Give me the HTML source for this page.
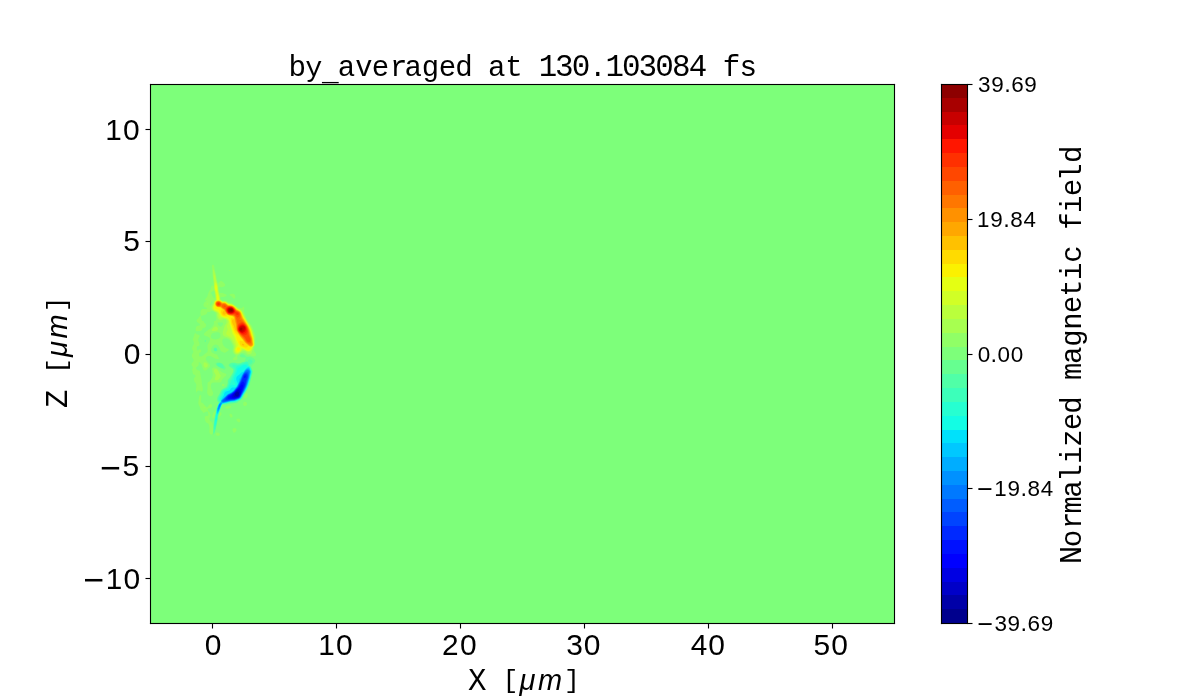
<!DOCTYPE html>
  <html><head><meta charset="utf-8"><title>by_averaged at 130.103084 fs</title>
  <style>
  html,body{margin:0;padding:0;background:#fff;width:1200px;height:700px;overflow:hidden}
  svg{display:block;will-change:transform}
  text{fill:#000}
  .s{font-family:"Liberation Sans",sans-serif}
  .m{font-family:"Liberation Mono",monospace}
  .i{font-family:"Liberation Sans",sans-serif;font-style:italic}
  </style></head>
  <body>
  <svg width="1200" height="700" viewBox="0 0 1200 700">
  <g shape-rendering="crispEdges">
  <rect x="0" y="0" width="1200" height="700" fill="#fff"/>
<rect x="150" y="84" width="745" height="540" fill="#7dff7a"/>
<rect x="942" y="85" width="25" height="13" fill="#8d0000"/>
<rect x="942" y="98" width="25" height="14" fill="#a80000"/>
<rect x="942" y="112" width="25" height="13" fill="#c80000"/>
<rect x="942" y="125" width="25" height="14" fill="#e40000"/>
<rect x="942" y="139" width="25" height="14" fill="#ff1600"/>
<rect x="942" y="153" width="25" height="14" fill="#ff3000"/>
<rect x="942" y="167" width="25" height="14" fill="#ff4700"/>
<rect x="942" y="181" width="25" height="14" fill="#ff6000"/>
<rect x="942" y="195" width="25" height="13" fill="#ff7700"/>
<rect x="942" y="208" width="25" height="14" fill="#ff9100"/>
<rect x="942" y="222" width="25" height="14" fill="#ffa700"/>
<rect x="942" y="236" width="25" height="14" fill="#ffc100"/>
<rect x="942" y="250" width="25" height="14" fill="#ffdb00"/>
<rect x="942" y="264" width="25" height="13" fill="#fbf100"/>
<rect x="942" y="277" width="25" height="14" fill="#e4ff13"/>
<rect x="942" y="291" width="25" height="14" fill="#d1ff26"/>
<rect x="942" y="305" width="25" height="14" fill="#baff3c"/>
<rect x="942" y="319" width="25" height="14" fill="#a7ff50"/>
<rect x="942" y="333" width="25" height="14" fill="#90ff66"/>
<rect x="942" y="347" width="25" height="13" fill="#7dff7a"/>
<rect x="942" y="360" width="25" height="14" fill="#66ff90"/>
<rect x="942" y="374" width="25" height="14" fill="#50ffa7"/>
<rect x="942" y="388" width="25" height="14" fill="#3cffba"/>
<rect x="942" y="402" width="25" height="14" fill="#26ffd1"/>
<rect x="942" y="416" width="25" height="14" fill="#13fde4"/>
<rect x="942" y="430" width="25" height="13" fill="#00e1fb"/>
<rect x="942" y="443" width="25" height="14" fill="#00c8ff"/>
<rect x="942" y="457" width="25" height="14" fill="#00adff"/>
<rect x="942" y="471" width="25" height="14" fill="#0091ff"/>
<rect x="942" y="485" width="25" height="14" fill="#0079ff"/>
<rect x="942" y="499" width="25" height="13" fill="#005dff"/>
<rect x="942" y="512" width="25" height="14" fill="#0044ff"/>
<rect x="942" y="526" width="25" height="14" fill="#0029ff"/>
<rect x="942" y="540" width="25" height="14" fill="#0011ff"/>
<rect x="942" y="554" width="25" height="14" fill="#0000ff"/>
<rect x="942" y="568" width="25" height="14" fill="#0000e3"/>
<rect x="942" y="582" width="25" height="13" fill="#0000c8"/>
<rect x="942" y="595" width="25" height="14" fill="#0000a8"/>
<rect x="942" y="609" width="25" height="14" fill="#00008d"/>
  </g>
  <defs><clipPath id="axclip"><rect x="151" y="85" width="743" height="538"/></clipPath></defs>
<g fill-rule="evenodd" clip-path="url(#axclip)"><path fill="#90ff66" d="M212.5 264.9L213.0 264.8 213.5 264.9 213.9 265.2 214.1 265.8 214.9 270.0 216.1 275.0 216.9 280.0 217.4 282.0 218.0 283.2 218.2 283.3 218.5 283.2 219.5 281.9 220.2 281.3 220.8 281.1 221.5 281.1 222.2 281.4 223.3 282.2 224.7 283.8 225.3 284.8 225.3 285.2 225.0 285.8 224.5 286.2 223.5 286.8 222.5 287.1 221.2 287.2 220.2 287.1 219.2 286.9 219.0 286.9 218.8 287.2 218.7 288.5 218.8 290.2 219.2 292.0 219.8 292.9 220.2 293.1 221.8 292.9 223.3 293.2 226.0 294.5 226.8 295.0 226.8 295.2 226.4 295.8 225.4 296.5 224.8 296.8 223.5 297.0 221.2 296.9 220.9 297.0 220.8 297.1 220.5 297.8 220.5 299.3 222.8 300.7 224.2 300.5 225.2 300.6 226.2 300.9 228.0 301.8 229.0 302.2 230.8 302.4 231.8 302.7 233.0 303.5 236.5 306.3 238.5 307.5 240.2 307.9 241.5 308.0 242.1 307.8 243.5 306.5 243.8 306.5 244.0 306.7 244.2 307.5 244.3 308.2 244.1 310.5 244.2 311.8 246.8 318.8 247.2 319.8 248.2 321.6 249.2 322.8 251.2 324.8 251.9 325.8 252.6 327.2 255.4 334.8 255.6 336.0 255.6 337.5 255.3 341.0 255.4 344.8 255.2 345.8 254.5 347.0 253.9 349.8 254.0 350.5 254.3 351.2 255.8 353.3 256.0 354.0 256.0 354.8 255.8 355.6 255.2 356.2 254.7 356.5 253.8 356.5 250.8 355.6 248.2 355.4 247.5 355.2 246.8 354.9 245.2 353.6 244.5 353.2 243.2 352.9 242.0 352.9 241.2 353.1 240.5 353.5 237.3 356.2 237.1 356.8 237.5 358.0 237.6 358.8 237.4 359.2 237.0 359.8 236.2 360.1 235.2 360.2 234.0 360.1 233.0 359.8 232.7 359.5 232.6 359.2 232.9 358.5 233.9 357.5 235.3 356.5 235.6 356.2 235.6 356.0 235.1 355.0 234.0 354.2 233.4 353.5 232.9 352.8 232.7 352.0 232.5 351.0 232.6 349.5 232.9 347.8 232.9 347.0 232.8 346.0 232.2 344.5 230.5 341.2 229.8 340.3 229.0 339.7 227.8 339.0 226.5 338.6 225.2 338.6 224.0 338.8 223.2 339.1 222.8 339.5 222.5 340.0 222.4 340.5 222.3 342.2 222.5 343.2 222.8 344.2 223.7 345.8 225.0 347.2 226.0 347.9 228.7 349.2 228.9 349.8 228.7 350.2 227.8 351.0 225.5 352.4 224.8 352.7 223.8 352.6 222.0 351.8 221.2 351.3 220.8 350.7 220.2 349.8 219.0 346.8 218.5 346.0 217.8 345.3 216.8 344.8 215.5 344.6 214.5 344.8 213.2 345.6 212.1 347.0 211.4 348.5 211.1 350.0 211.3 351.2 211.9 352.2 212.8 352.9 213.8 353.4 216.0 354.2 216.6 354.5 217.2 355.0 217.8 356.0 218.7 357.8 218.9 358.2 218.9 358.8 218.4 359.0 217.8 359.1 216.8 359.0 215.5 358.7 214.0 358.1 211.0 356.3 209.8 355.9 209.0 355.9 208.2 356.0 207.5 356.3 206.9 356.8 206.2 357.5 205.9 358.2 205.9 359.0 206.0 359.8 206.6 360.8 208.7 363.0 209.5 364.0 210.0 365.0 210.1 366.0 209.9 366.8 209.1 367.8 206.5 369.9 205.8 370.4 205.2 370.6 204.8 370.6 204.2 370.5 203.8 370.1 203.2 369.6 202.6 368.2 201.8 365.2 201.3 364.1 200.2 362.9 199.0 361.9 198.8 361.9 198.8 363.3 198.7 364.0 198.7 364.8 198.5 365.2 198.0 366.0 196.1 367.5 195.9 368.2 196.5 369.3 197.4 370.0 198.0 370.3 199.2 370.5 199.8 370.8 200.0 371.5 200.0 372.2 200.4 373.2 200.4 374.2 200.8 375.8 200.8 376.8 201.2 377.8 201.2 379.0 201.6 380.2 201.6 381.2 201.8 381.8 201.9 382.5 201.7 383.5 202.1 384.8 202.2 385.8 202.6 387.0 202.8 389.2 202.5 391.0 202.2 391.4 201.8 391.7 201.2 391.5 200.0 390.8 199.2 390.5 198.5 390.4 198.0 390.5 197.5 390.9 197.2 391.2 196.8 392.4 196.5 392.6 196.3 392.2 196.3 391.5 195.9 390.5 195.9 389.8 196.0 389.2 196.0 388.5 196.3 386.8 196.3 384.5 195.6 383.0 194.3 381.5 194.2 381.0 194.2 380.2 193.9 379.5 193.8 379.0 194.0 378.2 195.3 376.8 195.4 376.2 195.4 375.8 195.2 375.3 195.0 375.0 194.5 374.7 193.2 374.3 193.0 374.0 192.9 373.5 192.6 372.5 192.5 371.2 192.1 370.0 192.2 369.5 192.8 368.0 192.8 367.2 192.5 366.5 191.7 365.5 191.5 364.8 191.5 364.2 191.8 363.2 193.2 361.8 193.5 360.9 193.6 360.2 193.5 359.5 192.0 357.0 191.8 356.2 192.0 354.5 192.8 353.2 193.3 352.0 193.2 351.2 192.4 349.8 192.1 348.5 192.1 348.0 192.5 346.5 193.4 345.0 193.8 344.2 194.0 343.0 193.5 341.0 192.9 340.0 192.8 339.2 193.0 338.6 193.4 338.0 193.6 336.8 194.2 335.8 194.2 334.8 194.4 334.2 194.7 333.8 195.2 333.2 195.2 332.7 195.5 332.7 196.1 333.8 196.8 334.2 197.5 334.6 199.0 335.1 199.5 335.4 199.7 335.8 199.7 336.2 199.1 337.2 198.2 339.5 198.4 341.0 199.1 342.2 199.3 342.8 199.2 343.2 199.5 344.0 199.4 344.8 199.0 345.9 198.0 346.0 197.5 346.2 197.2 346.6 196.9 347.2 196.8 348.2 196.8 349.2 197.0 349.8 197.4 350.2 198.0 350.7 198.2 350.6 198.5 350.0 198.8 349.6 199.5 349.2 200.0 349.2 200.6 349.5 201.1 350.0 201.3 350.5 201.4 351.2 201.0 352.0 200.4 352.5 199.2 353.0 199.0 353.7 199.1 354.8 199.0 355.8 199.5 356.2 200.2 356.4 201.0 356.4 201.8 356.2 202.8 355.7 204.4 354.2 206.2 353.1 207.1 352.2 207.7 351.0 207.8 349.8 207.4 346.8 207.4 345.5 207.8 344.5 209.1 342.2 209.6 341.0 210.0 339.8 210.0 338.8 209.7 338.0 209.1 337.5 207.8 336.8 205.2 335.8 204.3 335.2 204.0 334.8 204.0 334.0 204.3 333.2 205.0 332.5 208.5 329.8 210.8 328.2 212.4 326.5 213.3 325.2 213.8 324.2 213.9 323.2 213.8 321.5 214.0 321.2 215.5 320.8 215.8 320.5 216.1 320.0 216.2 318.8 216.2 317.2 215.7 313.8 215.5 312.8 215.4 312.5 212.8 311.3 211.8 311.0 211.2 311.1 209.5 311.9 208.8 312.0 207.8 311.8 207.5 311.9 207.0 313.3 205.8 314.5 204.2 315.1 201.2 315.9 201.0 316.0 200.9 316.2 201.1 317.5 201.7 320.0 201.9 320.5 202.5 320.9 203.8 321.3 204.1 321.8 204.0 322.5 205.4 323.5 205.9 324.2 206.0 324.8 206.1 325.5 205.9 326.2 205.6 326.8 205.2 327.2 204.5 327.7 203.5 327.9 202.8 327.8 202.3 329.2 202.0 329.8 201.2 330.7 200.8 331.0 200.0 331.1 196.5 331.2 196.0 331.0 195.8 330.8 195.6 330.0 195.9 327.5 196.3 326.8 197.2 326.1 199.1 325.5 199.9 325.0 200.2 324.5 199.8 323.9 197.8 322.6 197.1 322.0 196.6 321.0 196.6 320.5 196.7 320.0 197.2 319.2 198.2 318.6 198.7 317.5 199.4 316.5 200.4 316.0 200.7 315.8 200.7 315.0 200.4 313.5 200.6 311.5 200.9 310.5 201.8 309.5 202.2 309.1 203.0 308.9 205.8 309.1 206.5 309.0 206.9 308.8 206.9 308.2 206.5 307.8 204.5 306.9 204.0 306.5 203.5 305.5 203.4 305.0 203.4 304.5 204.3 302.5 204.8 302.1 206.8 300.8 206.8 300.5 205.8 300.5 205.2 300.3 205.0 300.0 205.0 299.5 205.5 298.8 206.8 297.3 207.4 296.2 207.6 295.8 207.7 294.8 208.3 293.8 208.4 292.8 209.1 291.8 209.4 290.8 210.2 289.8 211.0 288.0 211.1 287.0 211.3 286.5 211.8 285.9 212.2 285.6 212.8 285.5 213.5 285.7 213.5 285.5 213.6 284.5 213.4 282.5 212.6 276.2 211.8 266.0 212.0 265.3ZM213.4 291.0L212.4 291.5 210.6 293.0 211.2 293.5 211.8 294.2 212.8 296.8 213.5 297.7 214.2 298.3 214.5 298.3 214.8 298.1 214.9 297.0 215.0 295.5 214.2 291.1 214.0 290.8ZM211.7 300.8L211.6 301.2 211.1 302.0 210.1 304.0 210.1 305.5 210.3 305.7 210.7 305.2 211.8 303.6 212.4 302.0 212.4 301.5 212.3 301.0 212.0 300.6ZM218.2 322.5L217.8 322.8 217.6 323.0 217.7 323.8 218.3 325.0 219.2 326.0 220.0 326.6 220.5 326.7 221.2 326.5 222.0 325.9 222.6 325.0 223.0 324.0 223.0 323.2 222.8 322.8 222.0 322.5 221.0 322.4 219.2 322.4ZM216.0 332.2L213.8 332.7 212.9 333.0 212.2 333.5 211.7 334.0 211.3 334.8 210.9 336.5 210.9 337.5 211.2 338.0 211.5 338.2 213.2 339.0 214.2 339.3 215.2 339.4 217.2 339.1 219.0 338.4 219.6 338.0 220.0 337.5 220.3 337.0 220.4 336.2 220.4 335.2 220.3 334.2 220.0 333.5 219.5 332.9 219.0 332.5 218.2 332.3ZM229.8 270.0L230.2 270.2 230.3 270.8 230.2 271.0 229.8 271.1 229.5 271.0 229.2 270.5 229.3 270.2 229.5 270.0ZM231.8 293.7L233.0 293.7 233.9 294.0 234.8 294.7 235.1 295.5 235.3 296.2 235.3 297.0 235.2 297.6 235.0 298.2 234.8 298.5 234.2 298.7 233.7 298.6 233.3 298.2 231.5 296.5 229.3 295.0 229.3 294.8 230.0 294.2ZM200.0 338.4L200.2 338.3 200.5 338.4 200.7 338.8 200.6 339.5 200.2 339.8 200.0 339.8 199.7 339.5 199.8 338.8ZM213.3 367.5L214.0 367.3 215.0 367.4 216.0 367.7 217.0 368.2 218.9 369.5 221.8 372.1 223.0 372.8 225.8 373.8 226.3 374.2 226.5 374.8 226.3 375.2 225.8 376.0 223.5 378.0 222.8 378.8 222.1 379.8 221.3 381.8 220.8 382.3 219.5 382.5 215.3 382.5 213.5 382.6 212.5 382.8 211.7 383.2 211.3 383.8 211.1 384.2 210.9 386.0 211.0 387.8 211.7 389.5 212.7 391.5 213.1 392.8 213.1 394.0 212.8 394.8 212.6 395.2 212.1 395.8 211.5 396.1 211.0 396.3 210.2 396.3 209.8 396.2 209.0 395.8 207.9 394.8 207.3 393.5 207.1 392.2 207.5 388.2 207.5 383.8 207.7 382.8 208.0 382.3 209.8 381.2 210.2 380.7 211.8 377.9 212.5 376.2 212.8 375.2 212.8 374.5 212.2 371.0 212.1 369.2 212.2 368.5 212.5 368.0ZM222.5 383.9L223.0 383.8 223.8 383.9 224.2 384.2 224.5 384.5 224.6 385.2 224.4 385.5 223.8 385.9 223.0 386.1 222.5 386.1 222.2 386.0 222.0 385.8 221.9 385.2 222.0 384.8 222.2 384.2ZM246.8 393.2L247.2 393.2 247.5 393.4 247.6 393.8 247.7 394.8 247.5 396.0 247.1 397.0 246.5 397.7 245.8 398.3 245.0 398.6 244.5 398.6 244.2 398.4 244.1 398.0 244.1 397.2 244.4 396.2 244.8 395.3 245.2 394.5 246.0 393.7ZM199.8 395.2L200.2 395.0 200.8 395.2 201.0 395.5 201.2 396.1 201.3 397.5 201.1 401.5 201.2 402.2 203.0 403.3 205.2 405.8 206.8 407.3 207.0 407.4 207.5 407.0 209.0 405.0 209.5 404.5 210.0 404.2 210.8 404.1 211.2 404.2 211.8 404.7 212.0 405.1 212.1 405.8 212.1 406.2 211.8 407.0 211.5 407.4 210.5 408.0 207.8 408.7 207.7 409.8 208.7 411.2 208.7 411.8 209.5 412.1 209.8 412.5 210.0 413.0 210.0 413.8 210.5 414.8 210.6 415.2 210.5 415.8 210.2 416.2 209.7 416.2 209.8 416.4 210.2 416.4 210.4 416.5 210.5 416.8 210.0 417.1 209.6 417.8 209.5 418.5 209.6 419.8 210.2 420.9 211.3 421.4 212.0 422.5 213.2 426.2 213.3 427.0 213.5 427.2 213.3 427.5 213.3 430.5 213.0 430.8 213.0 431.2 213.3 431.5 213.0 431.8 213.0 432.0 213.0 432.2 213.3 432.5 213.0 432.8 213.0 433.0 212.6 433.8 212.0 434.4 211.5 434.5 210.8 434.4 210.2 434.0 209.8 433.5 209.5 432.8 209.3 431.5 209.5 429.5 209.5 428.0 209.3 426.8 208.8 424.7 208.5 424.1 207.8 423.2 206.3 422.5 205.8 421.9 205.2 420.5 204.8 419.2 204.8 417.2 205.0 416.4 205.3 416.2 205.8 415.9 207.5 415.9 207.9 415.8 208.1 415.5 208.5 414.2 208.2 413.8 208.0 413.0 208.0 412.5 208.3 412.0 207.2 411.6 206.5 411.5 205.9 411.8 204.0 412.7 203.5 412.8 203.0 412.6 202.7 412.2 202.4 411.5 202.0 410.8 201.2 410.5 200.8 410.0 199.9 407.2 198.7 404.8 198.3 403.2 198.7 400.0 198.5 399.2 198.8 398.8 199.2 396.2 199.5 395.5ZM244.5 401.7L245.2 401.8 246.0 402.1 246.7 402.8 247.0 403.5 247.1 404.2 246.8 405.0 246.4 405.5 245.7 405.8 245.0 406.0 244.2 405.9 243.7 405.5 243.2 404.8 243.1 403.8 243.4 402.8 243.8 402.1ZM229.0 405.7L230.2 405.7 230.9 406.0 231.3 406.5 231.1 407.0 230.5 407.7 229.5 408.3 228.5 408.6 227.2 408.8 226.2 408.6 225.5 408.4 225.0 408.0 224.9 407.5 225.1 407.2 225.9 406.8 227.9 406.0ZM214.8 411.2L215.0 411.1 215.2 411.2 215.3 412.0 215.0 414.0 214.5 416.1 214.2 416.8 213.8 417.6 212.8 417.9 212.5 417.9 212.3 417.8 212.2 417.2 212.7 414.5 213.2 413.2 213.7 412.2 214.2 411.6ZM220.2 412.1L220.5 412.1 220.8 412.2 221.2 412.8 221.5 413.5 221.5 414.2 221.3 415.0 220.9 415.5 220.4 416.0 219.8 416.4 219.0 416.6 218.8 416.3 218.8 415.8 219.3 413.8 219.8 412.7ZM230.2 413.7L230.8 413.7 231.5 414.1 232.0 414.6 232.3 415.2 232.5 416.0 232.5 416.9 232.2 417.3 231.8 417.6 231.0 417.5 230.5 417.2 230.0 416.6 229.7 416.0 229.5 415.3 229.5 414.5 229.8 414.0ZM237.5 418.7L238.5 418.6 239.2 418.8 239.8 419.0 240.2 419.5 240.4 420.2 240.2 421.2 239.9 422.0 239.2 422.4 238.8 422.3 238.0 421.9 237.0 421.0 236.5 420.2 236.4 419.8 236.5 419.2 236.8 419.0ZM233.8 428.2L234.8 428.1 235.5 428.3 236.2 428.8 236.5 429.2 236.5 430.0 236.3 430.8 235.9 431.5 235.2 432.3 234.5 432.7 233.8 432.6 233.2 432.2 232.8 431.3 232.5 430.2 232.6 429.2 233.0 428.6ZM216.8 432.5L217.5 432.5 218.5 432.8 219.2 433.2 219.7 433.8 219.9 434.5 219.8 435.0 219.2 435.5 218.8 435.7 218.0 435.8 217.2 435.8 216.5 435.6 216.0 435.2 215.8 434.8 215.8 433.8 216.2 432.8Z"/>
<path fill="#a7ff50" d="M213.2 269.6L213.8 269.6 214.1 270.2 215.0 273.0 215.5 275.0 216.4 280.0 217.8 285.5 218.3 290.2 218.7 292.0 219.8 295.8 220.1 299.2 220.2 299.7 222.5 301.1 224.5 301.1 225.5 301.3 226.2 301.6 229.0 303.2 230.8 303.4 232.2 303.9 234.2 305.2 237.8 308.1 240.2 309.2 241.5 310.1 242.4 311.2 247.3 321.0 250.9 326.2 252.8 330.8 254.0 335.0 254.5 337.8 254.6 341.0 254.8 344.5 254.7 345.2 254.4 346.0 253.6 347.0 253.5 348.0 253.1 349.0 252.2 350.8 251.7 352.8 251.2 353.4 250.5 353.9 249.2 354.1 248.2 354.0 247.2 353.5 245.8 351.8 245.1 351.2 244.4 351.0 243.5 351.0 242.2 351.5 238.8 354.0 237.5 354.5 236.8 354.6 236.0 354.3 235.0 353.7 234.3 353.0 233.8 352.0 233.6 351.0 233.6 349.5 234.2 347.0 234.2 346.0 233.5 344.4 231.5 340.5 230.5 339.2 229.0 338.1 227.8 337.5 224.8 336.4 224.0 336.0 223.2 335.2 222.8 334.2 222.7 333.0 222.8 331.8 224.2 327.0 224.8 325.5 226.5 323.0 226.4 320.2 225.5 319.6 224.2 319.2 221.8 320.1 220.8 320.3 219.8 320.2 218.8 319.6 218.2 319.1 217.9 318.5 217.3 317.0 217.0 315.2 216.9 313.0 216.2 312.4 214.1 311.2 213.0 310.5 212.0 309.5 211.7 308.8 211.6 308.0 211.6 307.2 211.9 306.2 212.4 305.0 213.6 303.0 213.9 301.8 214.3 301.0 215.0 300.2 215.8 299.8 215.8 299.5 215.4 294.5 214.1 288.2 213.8 281.8 213.2 276.8 213.0 274.0 213.0 270.5ZM207.0 303.5L207.5 303.5 207.7 303.8 207.8 304.1 207.5 304.5 207.0 304.5 206.7 304.2 206.7 303.8ZM215.2 326.4L216.0 326.5 217.0 327.1 217.8 328.2 218.1 329.2 217.8 330.0 217.2 330.4 216.2 330.8 214.8 331.1 213.5 331.1 212.5 331.0 211.9 330.8 211.8 330.2 212.2 329.2 213.2 327.9 214.2 327.0ZM204.0 362.4L204.8 362.3 206.0 362.8 207.0 363.6 207.7 364.5 207.9 365.2 207.8 366.0 207.3 366.8 206.7 367.2 206.0 367.6 205.2 367.7 204.7 367.5 204.1 366.8 203.6 365.5 203.5 364.0 203.6 363.0 203.8 362.6ZM214.8 369.2L215.2 369.1 216.0 369.3 217.0 369.8 217.6 370.2 218.4 371.2 219.6 373.8 220.6 375.2 220.7 375.8 220.6 376.2 219.8 378.0 219.0 379.2 218.2 379.8 217.2 380.2 216.1 380.2 215.2 380.0 214.8 379.4 214.7 379.0 214.8 378.2 215.6 376.2 215.7 375.5 215.5 374.8 214.3 372.5 213.9 371.2 213.9 370.5 214.0 370.0 214.4 369.5ZM203.8 406.9L204.0 406.8 204.5 407.2 204.6 407.8 204.5 408.0 204.1 408.0 203.8 407.8 203.7 407.2ZM204.5 409.0L204.6 409.0 204.5 409.1Z"/>
<path fill="#baff3c" d="M214.0 274.9L214.5 274.8 214.8 275.0 214.8 275.5 215.0 275.8 215.6 279.5 217.3 285.0 217.7 287.0 218.1 291.0 219.3 295.8 219.9 299.8 220.0 299.9 222.5 301.5 224.2 301.5 225.2 301.6 226.2 302.1 228.8 303.7 231.2 304.1 232.8 304.7 234.8 306.0 237.5 308.5 240.0 309.7 241.1 310.5 242.0 311.8 244.3 316.5 247.0 321.4 250.3 326.5 252.2 330.8 253.4 335.2 254.0 338.0 254.4 344.2 254.3 345.0 254.1 345.8 253.6 346.5 253.1 347.0 252.6 348.8 251.8 350.2 250.8 351.2 249.3 352.1 248.5 352.1 247.0 351.5 243.8 349.7 243.2 349.6 243.0 349.7 242.0 350.4 239.8 352.6 238.8 353.3 238.0 353.7 237.2 353.8 236.5 353.7 235.8 353.2 235.0 352.5 234.5 351.5 234.3 350.0 234.5 349.0 235.2 346.8 235.2 345.7 234.9 344.8 232.8 340.0 232.2 338.8 231.5 338.0 230.5 337.3 227.5 335.5 226.7 334.8 226.4 334.2 226.3 333.8 226.3 333.2 226.4 332.5 227.4 330.5 227.7 329.8 227.6 329.0 227.1 327.2 227.0 326.2 227.1 325.2 228.1 322.5 228.3 321.8 228.2 321.0 228.1 320.8 226.8 319.6 225.2 318.9 223.0 318.3 221.5 318.6 220.8 318.7 220.0 318.5 219.5 318.2 218.8 317.4 218.2 316.0 218.1 314.8 218.3 313.5 217.8 312.9 217.0 312.2 214.7 311.0 213.8 310.3 213.0 309.5 212.6 308.8 212.5 308.0 212.5 307.2 212.9 305.5 213.4 304.5 214.0 303.6 214.2 302.5 214.6 301.5 215.2 300.7 216.3 300.0 215.8 295.0 214.4 288.2 214.2 284.0 214.3 280.2 214.0 278.0 213.8 276.0Z"/>
<path fill="#d1ff26" d="M215.5 282.5L215.8 282.5 215.9 282.8 216.2 283.2 216.8 284.4 217.1 285.8 217.4 287.8 217.7 290.5 218.1 292.8 219.1 296.5 219.5 300.0 220.5 300.5 222.5 301.7 224.2 301.8 225.2 302.0 226.2 302.4 228.8 304.1 231.0 304.4 232.8 305.0 234.6 306.2 237.2 308.8 239.8 310.0 240.7 310.8 241.7 312.0 244.0 316.8 246.8 321.7 249.5 326.0 250.6 328.2 251.9 331.5 253.5 337.8 254.1 344.0 254.0 345.0 253.5 346.1 252.4 347.2 252.1 348.5 251.5 349.5 250.9 350.2 250.2 350.8 249.2 351.2 248.0 351.3 246.8 350.9 245.2 350.1 244.0 349.3 242.5 348.7 241.8 349.4 240.0 351.7 239.2 352.3 238.5 352.7 237.8 353.0 237.0 353.0 236.2 352.6 235.8 352.2 235.2 351.0 235.0 349.8 235.3 348.5 236.3 346.2 236.4 345.8 236.3 345.0 235.5 342.2 235.2 340.5 234.3 337.8 233.7 336.2 232.3 334.0 232.0 333.0 230.9 328.5 229.4 323.8 229.1 321.0 227.6 319.5 226.5 318.8 225.8 318.5 223.5 317.8 222.0 317.2 221.0 317.1 220.2 316.8 219.8 316.2 219.6 315.8 219.5 315.2 219.5 314.2 218.2 312.5 217.0 311.5 215.4 310.8 214.5 310.2 213.8 309.5 213.4 308.8 213.1 307.8 213.2 306.5 213.5 305.5 214.3 304.0 214.4 303.0 214.6 302.2 215.2 301.2 215.8 300.7 216.5 300.2 216.6 300.0 216.4 297.8 216.2 295.0 214.7 288.0 214.7 284.0 215.0 282.9Z"/>
<path fill="#e4ff13" d="M216.0 285.0L216.2 285.1 216.6 285.8 217.0 287.8 217.1 291.8 217.3 293.0 217.5 293.2 217.9 294.8 218.5 296.0 218.7 297.2 219.1 300.0 219.3 300.2 220.5 300.7 222.2 301.9 224.2 302.0 225.2 302.3 226.2 302.8 228.5 304.4 231.2 304.8 232.8 305.4 234.5 306.5 237.0 309.0 239.5 310.2 240.5 311.0 241.3 312.0 243.6 317.0 246.4 321.8 248.9 325.8 250.2 328.2 251.4 331.5 253.1 337.8 253.8 344.0 253.7 345.0 253.4 345.8 253.1 346.2 251.8 347.2 251.5 348.2 251.0 349.2 250.3 350.0 249.5 350.5 248.5 350.7 247.5 350.6 246.2 350.0 244.4 349.0 242.8 348.3 241.5 348.0 240.2 350.5 239.8 351.0 239.0 351.6 238.2 352.0 237.5 352.0 236.9 351.8 236.4 351.2 236.0 350.6 235.8 350.0 235.9 348.8 236.4 347.8 237.9 345.8 238.2 344.5 236.0 340.1 235.2 337.2 234.7 336.0 233.2 333.6 232.8 332.5 231.4 327.8 230.0 323.5 229.6 320.8 228.2 319.1 227.2 318.3 226.2 317.9 223.5 317.2 222.5 316.7 221.8 316.2 220.8 315.2 218.5 311.7 217.5 311.0 215.9 310.2 215.1 309.8 214.5 309.2 214.0 308.5 213.8 307.8 213.8 306.8 214.1 305.8 214.6 304.8 214.6 303.5 214.8 302.5 215.2 301.8 215.6 301.2 216.2 300.8 217.1 300.2 216.8 297.0 216.9 295.5 217.1 295.0 216.9 294.0 217.0 293.8 216.8 293.5 216.9 293.2 216.7 293.0 216.7 292.5 216.5 292.2 216.6 292.0 216.3 291.8 215.8 290.5 215.1 288.0 215.3 285.8 215.8 285.0Z"/>
<path fill="#fbf100" d="M217.5 300.4L218.5 300.4 219.5 300.5 220.5 301.0 222.2 302.2 224.5 302.3 225.5 302.6 228.5 304.7 231.0 305.0 232.8 305.6 234.4 306.8 236.8 309.1 239.7 310.7 240.4 311.2 241.0 312.0 243.3 317.2 248.5 325.8 249.6 328.0 251.1 331.8 252.8 338.0 253.6 344.0 253.5 345.0 253.1 345.8 252.7 346.2 252.0 346.7 251.2 347.0 250.5 348.5 249.9 349.2 249.2 349.6 248.8 349.8 248.0 349.8 247.2 349.7 241.2 347.0 240.2 346.3 239.8 345.8 238.7 343.8 237.0 339.8 236.4 337.0 236.0 335.8 235.4 334.8 234.1 333.0 233.3 331.2 232.1 327.5 230.6 323.2 230.3 321.8 230.2 320.2 229.5 319.2 228.8 317.7 228.5 317.4 228.0 317.1 224.3 316.8 223.2 316.4 222.2 315.9 221.4 315.0 220.4 313.5 219.9 312.5 219.2 310.6 218.8 310.0 218.0 309.5 216.5 309.2 215.9 309.0 215.2 308.6 214.9 308.0 214.7 307.0 214.8 306.2 215.0 305.5 214.8 303.8 215.1 302.5 215.5 301.8 216.0 301.2 216.7 300.8ZM238.0 347.5L238.8 347.3 239.2 347.4 239.7 347.8 239.9 348.2 240.0 349.0 239.8 349.8 239.2 350.4 238.7 350.8 238.2 350.8 237.8 350.6 237.0 350.0 236.8 349.5 236.8 349.0 237.0 348.4 237.5 347.8Z"/>
<path fill="#ffdb00" d="M217.5 300.7L218.5 300.6 219.5 300.8 220.2 301.1 222.3 302.5 224.2 302.6 225.5 302.9 228.2 304.9 231.0 305.3 232.8 305.9 234.3 307.0 236.8 309.5 239.8 311.1 240.5 311.8 241.0 312.5 243.0 317.5 248.2 326.0 249.8 329.2 250.7 331.8 251.3 334.2 252.5 338.0 253.3 344.0 253.2 345.0 252.8 345.8 252.2 346.3 251.5 346.7 250.5 346.8 249.8 346.7 249.2 346.4 248.8 346.0 248.5 346.0 248.3 346.0 248.0 346.2 247.1 347.2 246.5 347.6 245.2 347.6 243.2 347.1 241.6 346.2 240.5 345.2 240.1 344.5 239.7 343.5 239.5 341.8 239.7 340.9 240.2 340.7 243.0 341.3 243.5 341.4 243.5 341.2 242.5 339.7 240.2 337.0 239.2 335.7 239.0 335.4 238.0 334.9 237.0 334.2 235.7 333.0 235.0 332.1 234.0 330.2 232.7 326.5 231.3 323.2 230.9 321.2 231.0 318.8 231.2 318.3 231.8 317.9 233.5 317.2 233.4 317.0 232.8 316.5 229.0 315.5 227.5 315.0 227.2 314.9 226.8 315.4 226.2 315.8 225.0 316.0 223.5 315.7 222.8 315.4 222.2 315.0 221.6 314.0 221.0 312.5 221.0 311.5 221.7 309.5 221.7 308.8 221.5 308.5 220.6 307.8 220.0 307.5 218.2 307.4 217.2 307.1 216.8 306.9 215.8 306.0 215.3 305.0 215.1 304.2 215.1 303.5 215.5 302.2 215.8 301.8 216.3 301.2Z"/>
<path fill="#ffc100" d="M217.5 300.9L218.5 300.8 219.5 301.0 220.2 301.4 222.2 302.7 224.2 302.8 225.2 303.1 228.2 305.2 230.8 305.5 232.5 306.0 233.5 306.6 234.2 307.2 236.5 309.6 239.2 311.0 240.0 311.6 240.5 312.2 240.9 313.0 242.7 317.8 247.5 325.2 248.9 328.0 250.3 331.8 251.0 334.5 252.2 338.2 253.0 344.0 253.0 344.8 252.6 345.5 252.2 346.0 251.5 346.4 251.0 346.5 250.2 346.5 249.2 346.0 247.5 344.7 245.8 343.3 244.7 342.2 243.0 339.8 240.5 336.8 237.5 332.4 236.0 331.0 235.2 329.8 234.0 326.2 232.3 323.0 232.0 321.5 232.0 320.5 232.2 320.0 232.5 319.6 233.2 319.2 234.2 319.1 234.2 317.5 234.0 317.0 232.8 316.2 229.2 315.4 228.2 315.0 227.2 314.5 226.2 313.6 226.0 313.7 225.3 314.5 224.8 314.7 224.0 314.7 223.5 314.5 223.1 314.2 222.6 313.5 222.5 312.7 222.7 312.0 223.9 310.2 223.9 310.0 220.5 307.3 218.0 307.1 217.0 306.7 216.1 306.0 215.5 305.0 215.3 303.8 215.6 302.5 216.4 301.5ZM242.0 344.0L242.2 343.8 242.8 343.8 243.5 344.0 244.0 344.2 244.2 344.6 244.3 345.0 244.3 345.2 244.0 345.5 243.2 345.6 242.5 345.2 242.2 345.0 241.9 344.5Z"/>
<path fill="#ffa700" d="M217.5 301.2L218.5 301.0 219.5 301.2 220.2 301.6 222.0 303.0 224.2 303.1 225.0 303.3 225.8 303.7 228.0 305.4 230.8 305.7 232.5 306.3 234.0 307.3 236.5 309.9 239.1 311.2 239.7 311.8 240.2 312.2 240.6 313.0 242.4 318.0 247.7 326.2 249.0 329.0 249.9 331.5 250.6 334.5 251.9 338.2 252.7 344.0 252.6 344.8 252.2 345.5 251.5 346.0 250.8 346.2 250.0 346.0 249.4 345.8 246.5 343.5 245.2 342.2 243.2 339.4 240.2 335.9 237.2 331.5 236.7 330.5 236.5 329.8 236.0 324.8 235.1 321.2 234.4 317.0 233.0 315.9 229.2 315.1 227.7 314.5 227.0 314.0 226.3 313.2 225.5 312.0 224.5 310.0 221.0 307.4 220.5 307.0 217.8 306.8 217.1 306.5 216.5 306.1 216.0 305.5 215.7 304.8 215.5 304.0 215.6 303.2 215.9 302.5 216.2 301.9 216.8 301.5Z"/>
<path fill="#ff9100" d="M217.5 301.4L218.5 301.3 219.5 301.5 220.2 301.9 222.0 303.4 224.0 303.4 225.0 303.6 228.0 305.7 230.5 305.9 231.5 306.1 232.5 306.5 234.0 307.6 236.2 310.1 239.0 311.5 239.5 311.9 240.0 312.5 240.4 313.2 241.9 318.2 245.6 323.5 247.1 325.8 248.0 327.5 249.1 330.2 250.3 334.8 251.5 338.2 252.3 344.0 252.2 344.8 251.8 345.2 251.5 345.5 250.8 345.7 249.9 345.5 248.8 344.8 246.8 343.2 245.5 342.0 243.6 339.2 240.3 335.3 237.4 331.2 236.9 330.2 236.7 329.2 236.4 324.5 235.6 321.5 234.7 316.8 233.2 315.6 229.2 314.9 228.2 314.5 227.5 314.1 226.9 313.5 226.1 312.5 224.8 309.8 220.8 306.8 218.0 306.6 217.2 306.3 216.8 306.0 216.0 305.0 215.8 304.2 215.8 303.5 216.0 302.8 216.3 302.2 216.8 301.8Z"/>
<path fill="#ff7700" d="M217.5 301.7L218.5 301.5 219.5 301.8 220.2 302.2 221.8 303.8 222.0 303.9 223.7 303.7 224.8 303.9 225.2 304.1 227.8 306.0 229.0 306.0 230.5 306.2 231.5 306.4 232.5 306.8 233.3 307.2 234.0 307.9 236.0 310.3 238.8 311.7 239.6 312.5 240.0 313.1 240.3 314.0 241.0 316.8 241.3 318.5 245.0 323.2 246.6 325.5 247.3 326.8 248.6 330.0 249.8 334.8 251.2 338.5 251.5 340.2 251.6 342.5 251.6 343.8 251.2 344.4 250.5 344.6 249.5 344.4 248.5 343.9 247.2 343.0 246.1 342.0 245.5 341.3 243.8 338.6 240.2 334.7 237.7 331.2 237.2 330.2 237.0 329.0 236.9 327.2 236.9 324.2 235.0 316.5 233.5 315.2 229.5 314.7 228.5 314.4 227.8 313.9 227.0 313.2 226.3 312.2 225.6 311.0 225.0 309.5 222.5 307.7 221.0 306.3 219.8 306.4 218.2 306.4 217.5 306.2 216.9 305.8 216.4 305.2 216.2 304.8 216.0 304.0 216.1 303.5 216.2 303.0 216.5 302.4 216.9 302.0Z"/>
<path fill="#ff6000" d="M217.8 301.9L218.8 301.9 219.7 302.2 220.5 303.0 221.2 304.0 221.4 304.8 221.2 305.2 220.7 305.8 220.0 306.0 218.8 306.1 218.0 306.0 217.2 305.7 216.6 305.0 216.4 304.2 216.4 303.2 216.8 302.5 217.2 302.2ZM223.5 304.2L224.2 304.2 225.0 304.5 227.5 306.3 228.5 306.2 230.0 306.3 231.5 306.6 232.5 307.0 233.8 308.0 235.1 309.5 236.0 310.7 238.5 311.9 239.4 312.8 239.8 313.4 239.9 314.2 240.2 316.2 240.3 317.3 240.0 318.5 239.7 319.0 239.2 319.5 240.8 320.0 241.5 320.4 244.2 322.9 245.5 324.4 246.8 326.3 247.8 328.8 248.5 331.2 249.3 335.0 250.5 338.0 250.9 339.2 251.0 340.8 251.0 342.0 250.8 342.7 250.2 343.2 249.5 343.3 248.8 343.2 247.8 342.7 246.8 342.0 246.0 341.1 244.8 339.0 244.1 338.0 240.8 334.7 238.2 331.7 237.6 330.5 237.3 329.0 237.2 326.2 237.5 324.0 237.1 321.2 237.1 320.2 236.3 319.0 235.4 316.2 233.8 314.8 232.0 314.7 229.5 314.4 228.2 314.0 227.3 313.2 226.8 312.5 226.0 311.2 225.2 309.0 222.7 307.2 222.3 306.8 221.9 306.0 221.8 305.5 222.0 305.0 222.7 304.5Z"/>
<path fill="#ff4700" d="M218.2 302.2L219.0 302.3 219.7 302.8 220.3 303.5 220.5 304.2 220.5 304.8 220.1 305.2 219.5 305.6 218.8 305.8 218.0 305.6 217.5 305.4 217.0 304.9 216.7 304.2 216.7 303.5 217.0 302.9 217.5 302.5ZM224.0 305.7L224.2 305.5 224.5 305.5 224.8 305.7 226.1 307.0 225.8 307.2 224.0 306.6 223.8 306.2ZM227.5 306.7L228.8 306.5 230.0 306.6 231.5 306.8 232.5 307.2 233.5 308.0 234.2 308.8 235.2 310.0 235.8 311.1 238.2 312.2 238.8 312.8 239.2 313.4 239.4 314.0 239.4 315.2 239.3 316.0 239.0 316.6 238.5 317.1 238.0 317.4 237.5 317.5 237.2 317.4 236.8 317.1 235.8 315.8 234.5 314.2 234.2 314.1 232.5 314.4 230.0 314.2 228.5 313.8 227.5 313.1 226.8 312.0 226.3 311.0 225.9 310.0 225.8 309.2 225.8 308.8 226.1 307.8 226.5 307.2ZM240.8 322.4L241.5 322.3 242.2 322.3 243.0 322.6 243.9 323.2 245.0 324.4 246.0 325.8 246.6 326.8 247.1 328.0 248.0 331.0 248.5 335.0 248.8 336.0 250.1 338.8 250.3 340.0 250.2 341.0 250.0 341.4 249.7 341.8 249.2 342.0 248.8 342.0 247.8 341.7 246.7 340.8 245.6 338.5 244.9 337.5 243.8 336.5 241.8 335.1 240.4 333.8 238.7 331.8 238.1 331.0 237.8 330.2 237.6 329.2 237.6 327.5 237.8 325.9 238.1 324.8 238.5 324.0 239.0 323.4 239.8 322.9Z"/>
<path fill="#ff3000" d="M218.2 303.0L218.5 303.0 219.1 303.2 219.5 303.7 219.6 304.0 219.6 304.5 219.4 304.8 218.8 305.0 218.0 304.9 217.8 304.7 217.5 304.2 217.4 303.8 217.5 303.4 217.8 303.2ZM228.2 306.9L229.5 306.8 231.2 307.0 232.2 307.4 233.2 308.1 234.1 309.0 234.9 310.2 235.3 311.0 235.5 311.9 237.8 312.8 238.1 313.0 238.5 313.5 238.6 314.0 238.5 314.4 238.2 314.7 238.0 314.9 237.5 315.0 237.0 314.9 236.5 314.7 236.1 314.2 235.0 312.9 234.5 313.4 233.6 313.8 232.8 313.9 231.5 314.0 230.2 314.0 229.3 313.8 228.5 313.5 227.9 313.0 227.4 312.5 226.7 311.2 226.4 310.2 226.3 309.2 226.4 308.5 226.8 307.8 227.4 307.2ZM241.2 323.4L242.0 323.3 242.8 323.4 243.5 323.7 244.5 324.5 245.5 325.7 246.2 326.8 246.8 328.2 247.2 329.8 247.4 331.0 247.4 332.2 247.2 333.2 246.9 334.0 246.3 334.8 245.8 335.0 244.8 335.3 244.0 335.3 243.0 335.0 242.2 334.6 240.5 333.3 239.2 332.0 238.5 331.0 238.0 329.8 237.9 328.8 238.0 327.2 238.5 325.6 239.0 324.8 239.5 324.4 240.2 323.9Z"/>
<path fill="#ff1600" d="M228.8 307.2L230.5 307.2 231.2 307.3 232.0 307.5 233.2 308.4 234.3 309.8 234.8 311.0 234.9 311.5 234.8 312.1 234.5 312.5 234.0 313.0 232.8 313.5 230.8 313.7 229.5 313.5 228.4 313.0 227.6 312.2 226.9 310.5 226.8 309.8 226.8 309.0 227.0 308.5 227.5 307.9 228.0 307.5ZM241.5 324.4L242.2 324.3 243.0 324.3 243.8 324.7 244.5 325.3 245.2 326.1 245.9 327.0 246.5 329.2 246.6 330.2 246.5 331.2 246.3 332.0 246.0 332.5 245.5 333.0 244.7 333.5 244.0 333.8 243.2 333.9 242.5 333.8 241.8 333.5 240.5 332.7 238.9 331.0 238.5 330.3 238.3 329.8 238.2 329.0 238.3 328.0 238.6 327.0 238.9 326.2 239.3 325.8 239.9 325.2Z"/>
<path fill="#e40000" d="M229.8 307.5L231.2 307.6 232.5 308.1 233.4 309.0 234.2 310.5 234.3 311.5 233.9 312.2 233.0 312.8 231.8 313.2 230.2 313.3 229.0 312.9 228.1 312.2 227.6 311.2 227.3 310.5 227.3 309.8 227.4 309.0 227.7 308.5 228.5 307.8ZM242.5 325.2L243.0 325.3 243.8 325.5 244.5 326.1 245.2 326.8 245.6 327.8 245.8 329.2 245.6 330.0 245.4 330.5 245.1 331.0 244.5 331.7 243.2 332.5 242.8 332.7 242.0 332.7 240.8 332.2 239.4 331.0 238.8 330.0 238.6 329.0 239.0 327.5 239.6 326.5 240.2 326.0 241.0 325.6Z"/>
<path fill="#c80000" d="M229.5 307.9L230.8 307.8 231.8 308.1 232.8 308.8 233.5 309.8 233.7 310.8 233.6 311.5 233.0 312.1 231.8 312.7 230.8 312.8 229.5 312.6 228.8 312.2 228.1 311.5 227.9 310.2 228.0 309.2 228.5 308.5 229.0 308.1ZM241.5 326.4L242.8 326.3 243.8 326.5 244.5 327.1 244.8 327.5 244.9 328.0 244.8 328.8 244.3 329.8 243.5 330.8 242.4 331.5 241.5 331.7 240.5 331.3 239.5 330.5 239.1 329.5 239.2 328.5 239.7 327.5 240.5 326.9Z"/>
<path fill="#a80000" d="M230.2 308.2L231.0 308.2 232.0 308.6 232.7 309.2 233.1 310.0 233.1 310.8 232.8 311.5 232.0 312.0 231.2 312.1 230.2 312.0 229.4 311.8 228.8 311.3 228.5 310.8 228.5 309.9 228.9 309.0 229.5 308.5ZM241.2 327.7L241.9 327.8 242.3 328.0 242.5 328.5 242.4 329.2 242.3 329.8 242.0 330.2 241.5 330.5 241.0 330.6 240.5 330.4 240.1 330.0 239.9 329.5 239.9 329.0 240.2 328.2 240.8 327.9Z"/>
<path fill="#8d0000" d="M230.2 308.9L230.8 308.9 231.4 309.0 231.8 309.2 232.3 309.8 232.4 310.2 232.2 310.7 232.0 310.9 231.5 311.0 230.0 310.6 229.6 310.2 229.5 310.0 229.6 309.5 229.8 309.2Z"/>
<path fill="#66ff90" d="M205.2 339.9L205.8 339.9 206.1 340.2 206.1 341.0 205.9 341.2 205.9 341.5 205.5 341.9 204.8 341.9 204.6 341.8 204.6 340.5ZM214.8 347.6L216.0 347.6 217.1 348.8 217.2 349.2 217.4 349.5 217.4 350.5 216.5 351.4 216.0 351.4 215.8 351.6 215.5 351.6 215.2 351.4 214.8 351.4 213.6 350.2 213.6 349.0 213.8 348.8 213.8 348.5ZM241.5 354.2L242.5 354.2 243.9 354.8 244.6 355.2 245.8 356.4 246.6 356.8 246.8 357.0 248.9 356.8 249.8 356.7 250.8 357.0 251.8 357.4 253.3 358.2 254.3 359.0 254.8 359.8 255.2 360.8 255.0 361.5 254.5 362.5 252.4 364.8 251.9 365.5 251.6 366.2 251.5 367.1 251.0 367.2 251.2 367.5 251.2 367.8 251.5 368.0 251.5 368.2 251.7 368.5 251.7 368.8 251.9 369.0 251.9 369.5 252.4 370.2 252.4 370.8 252.7 371.0 252.7 372.8 252.4 373.0 252.4 373.8 252.2 374.0 252.2 374.5 251.9 374.8 251.9 375.2 251.7 375.5 251.7 376.2 251.4 376.5 251.4 377.5 251.2 377.8 251.1 378.8 250.9 379.0 250.9 379.8 250.7 380.0 250.7 380.8 250.4 381.0 250.4 381.8 250.2 382.0 250.2 382.8 249.9 383.0 249.9 383.5 249.7 383.8 249.7 384.5 249.4 384.8 249.4 385.2 248.9 386.0 248.9 386.5 248.7 386.8 248.7 387.0 248.4 387.2 248.4 387.5 248.2 387.8 248.2 388.0 247.9 388.2 247.9 388.5 247.7 388.8 247.7 389.0 247.4 389.2 247.4 389.5 247.2 389.8 247.2 390.0 246.9 390.2 246.9 390.5 246.7 390.8 246.6 391.0 246.2 391.5 246.2 391.8 245.4 392.5 245.4 392.8 244.7 393.5 244.4 394.2 243.9 394.8 243.9 395.0 243.4 395.8 243.4 396.0 243.2 396.2 243.2 396.5 242.9 396.8 242.9 397.0 242.7 397.2 242.7 397.5 242.4 397.8 242.4 398.0 242.2 398.2 242.2 398.5 241.7 399.0 241.7 399.2 241.0 399.9 240.8 399.9 240.0 400.7 239.8 400.7 239.2 401.1 239.0 401.2 238.8 401.4 238.5 401.4 238.2 401.8 238.1 402.0 237.5 402.6 237.2 402.7 236.5 403.1 233.5 403.2 233.2 403.4 230.5 403.4 230.2 403.6 228.8 403.7 228.5 403.9 227.8 403.9 227.5 404.1 226.8 404.2 226.5 404.4 223.0 404.4 222.8 404.2 222.4 404.5 222.4 404.8 221.7 405.5 221.4 406.2 221.2 406.5 221.2 407.0 220.9 407.2 220.9 407.8 220.7 408.0 220.7 408.5 220.4 408.8 220.4 409.2 220.2 409.5 220.2 410.0 219.9 410.2 219.9 410.8 219.7 411.0 219.7 411.5 219.4 411.8 219.4 412.2 218.9 413.0 218.9 413.5 218.7 413.8 218.6 414.5 218.4 414.8 218.4 415.2 218.2 415.5 218.1 416.2 217.9 416.5 217.9 418.5 217.7 418.8 217.7 420.2 217.4 420.5 217.4 421.5 217.2 421.8 217.2 422.8 216.9 423.0 216.9 424.0 216.7 424.2 216.7 425.2 216.4 425.5 216.4 426.5 216.2 426.8 216.2 428.0 215.9 428.2 215.9 429.2 215.7 429.5 215.6 430.0 215.4 430.2 215.4 430.5 215.2 430.8 215.1 431.5 214.9 431.8 214.9 432.2 214.6 432.5 214.6 433.2 214.1 433.8 214.1 434.2 213.8 434.6 213.5 434.6 213.1 434.2 213.1 433.8 213.4 433.5 213.1 433.2 213.1 432.8 213.4 432.5 213.1 432.2 213.1 431.8 213.4 431.5 213.2 431.2 213.2 430.8 213.4 430.5 213.4 427.5 213.6 427.2 213.4 427.0 213.4 426.8 213.6 426.5 213.6 424.5 213.8 424.2 213.9 422.8 214.1 422.5 214.1 421.2 214.3 421.0 214.4 419.8 214.6 419.5 214.6 418.5 214.8 418.2 214.8 417.2 215.1 417.0 215.1 415.8 215.3 415.5 215.3 414.8 215.6 414.5 215.6 413.8 215.8 413.5 215.8 412.5 216.1 412.2 216.1 411.0 216.3 410.8 216.3 409.5 216.6 409.2 216.6 408.2 216.8 408.0 216.8 407.5 217.1 407.2 217.1 406.8 217.6 406.0 217.6 405.5 217.8 405.2 217.9 404.8 218.3 404.0 218.3 403.8 218.8 403.2 218.8 403.0 218.8 402.8 218.5 402.4 218.2 402.4 217.9 402.0 217.8 401.8 217.4 401.2 217.3 400.8 217.1 400.5 217.1 398.2 217.3 398.0 217.3 397.5 217.8 396.8 217.8 396.5 218.1 396.2 218.1 396.0 218.6 395.5 218.6 395.2 219.1 394.8 219.1 394.5 219.3 394.2 219.3 394.0 219.6 393.8 219.6 393.5 219.8 393.2 219.8 393.0 220.1 392.8 220.1 392.2 220.3 392.0 220.3 391.8 220.6 391.5 220.6 391.2 220.8 391.0 220.8 390.8 221.1 390.5 221.1 390.2 222.2 389.1 222.5 389.1 223.0 388.6 223.2 388.6 223.5 388.3 223.8 388.3 224.0 388.1 224.2 388.1 224.5 387.8 224.8 387.8 225.5 387.3 225.8 387.3 226.6 386.5 226.6 386.2 227.1 385.5 227.1 385.0 227.3 384.8 227.3 384.0 227.6 383.8 227.6 380.0 228.3 379.2 228.4 379.0 229.8 377.5 229.9 377.2 230.3 376.8 230.4 376.5 230.8 376.0 230.9 375.8 231.3 375.2 231.3 375.0 231.8 374.5 231.8 374.2 232.1 374.0 232.1 373.8 232.3 373.5 232.4 373.2 232.8 372.5 232.8 372.2 233.1 372.0 233.1 371.2 233.3 371.0 233.3 370.0 233.1 369.8 233.1 369.2 232.2 368.4 232.0 368.4 231.5 367.9 231.2 367.9 230.8 367.4 230.5 367.4 230.2 367.2 230.0 367.1 229.5 366.7 229.2 366.6 228.9 366.2 228.8 366.0 228.6 365.8 228.6 364.8 230.0 363.3 230.2 363.3 231.0 362.8 231.5 362.8 231.8 362.6 235.2 362.6 235.5 362.8 236.0 362.8 236.2 363.1 236.8 363.1 237.0 363.3 239.8 363.3 240.0 363.1 240.5 363.1 241.2 362.6 241.8 362.6 242.5 362.1 243.2 362.1 243.5 361.8 244.5 361.8 244.7 361.5 245.0 360.2 245.9 358.0 246.0 357.5 243.5 357.6 242.5 357.5 241.5 357.3 240.5 356.8 240.1 356.0 240.2 355.2 240.8 354.6ZM217.2 362.6L219.8 362.6 220.0 362.8 220.8 362.8 221.0 363.1 221.5 363.1 221.8 363.3 222.0 363.3 222.5 363.8 222.8 363.9 223.6 364.8 223.7 365.0 224.6 366.0 224.7 366.2 225.4 367.0 225.4 367.5 225.6 367.8 225.6 368.2 225.2 369.0 224.8 369.4 224.0 369.4 223.5 369.4 223.2 369.2 222.8 369.1 222.5 368.9 222.2 368.9 222.0 368.7 221.8 368.6 221.5 368.4 221.2 368.4 221.0 368.2 220.8 368.2 220.5 367.9 220.2 367.9 220.0 367.7 219.8 367.7 219.5 367.4 219.2 367.4 218.8 366.9 218.5 366.9 218.2 366.7 218.0 366.6 217.2 365.9 217.0 365.9 216.1 365.0 216.1 364.8 215.8 364.5 215.8 364.2 215.6 364.0 215.6 363.5 216.0 363.1 216.2 363.1 216.5 362.8 217.0 362.8ZM206.5 399.9L206.8 399.9 206.9 400.0 206.9 400.2 206.8 400.4 206.5 400.4 206.4 400.2 206.4 400.0Z"/>
<path fill="#50ffa7" d="M214.8 348.2L215.2 348.1 215.8 348.2 216.2 348.5 216.6 349.0 216.8 349.8 216.7 350.2 216.5 350.6 216.0 351.0 215.5 351.0 215.0 350.9 214.5 350.6 214.2 350.2 214.0 349.8 214.1 349.2 214.3 348.8ZM249.5 359.5L250.5 359.5 251.5 359.9 252.2 360.8 252.5 361.5 252.5 362.0 252.4 362.2 250.8 364.3 250.5 364.5 250.0 364.5 249.0 364.3 249.0 364.8 249.2 365.0 249.2 365.2 249.4 365.5 249.4 365.8 249.8 365.8 250.2 366.4 250.8 367.0 250.9 367.2 251.1 367.5 251.1 367.8 251.5 368.5 252.4 371.0 252.5 372.2 252.2 373.5 251.5 375.5 250.9 378.5 249.4 384.2 249.1 385.2 247.4 389.0 246.0 391.6 244.5 393.5 243.8 394.8 242.2 398.0 241.8 398.8 241.0 399.6 240.2 400.2 237.9 401.5 237.0 402.3 235.8 402.7 229.5 403.4 225.8 404.2 224.2 404.2 223.0 404.1 222.8 404.0 222.3 404.5 221.6 405.5 221.1 406.5 219.7 410.8 219.0 412.7 218.8 413.0 218.2 415.2 218.1 415.5 217.8 416.5 217.7 418.5 217.6 418.8 217.5 420.0 217.3 420.5 217.2 421.5 217.1 421.8 216.4 425.2 216.3 425.5 216.2 426.3 216.0 426.8 216.0 427.5 215.7 428.8 215.6 429.2 215.4 429.8 215.2 430.4 215.0 430.8 215.0 431.3 214.6 431.8 214.7 432.0 214.5 432.4 213.9 432.8 213.9 433.0 213.8 433.2 213.6 433.2 213.5 433.1 213.5 432.9 213.7 432.8 213.6 432.5 213.5 432.4 213.4 432.0 213.6 431.5 213.4 431.0 213.5 430.5 213.5 428.0 213.7 427.2 213.6 427.0 213.7 426.5 213.8 424.8 213.9 424.2 214.1 422.8 214.2 422.5 214.8 418.7 214.9 418.2 215.0 417.2 215.2 417.0 215.3 415.8 215.4 415.5 215.7 413.7 215.9 413.5 216.0 412.5 216.2 412.2 216.2 411.2 217.0 407.6 217.7 406.0 218.3 404.2 218.5 403.8 218.9 403.2 219.1 402.8 219.1 402.5 218.1 401.5 217.6 400.5 217.4 399.2 217.7 397.8 218.2 396.5 219.6 394.2 220.8 391.5 221.5 390.2 222.8 389.2 226.2 387.2 226.7 386.8 227.3 385.5 227.7 384.3 227.9 383.2 228.1 381.0 228.4 380.2 228.8 379.5 230.3 377.5 232.2 374.3 233.0 372.8 233.5 371.2 233.6 370.0 233.3 369.0 232.6 368.2 230.8 367.0 230.0 366.2 229.6 365.5 229.5 365.0 229.7 364.5 230.1 364.0 230.8 363.5 231.5 363.2 232.5 363.0 233.5 362.9 234.5 362.9 237.2 363.7 238.8 363.7 240.0 363.5 243.7 362.0 244.5 361.9 244.8 361.7 247.0 361.5 247.2 361.8 247.5 361.8 247.7 361.0 248.2 360.2 248.8 359.8ZM218.0 363.2L219.2 363.1 220.5 363.3 221.5 363.8 222.5 364.5 223.3 365.8 223.8 367.2 223.7 367.8 223.5 368.0 223.0 368.1 222.5 368.0 221.2 367.7 219.8 367.1 218.3 366.2 217.4 365.5 216.9 364.8 216.8 364.0 217.2 363.5Z"/>
<path fill="#3cffba" d="M246.8 361.7L247.0 361.7 247.2 362.0 247.5 361.9 247.8 362.2 247.8 362.5 248.1 362.8 248.1 363.0 248.6 363.7 248.6 364.3 249.0 365.0 249.2 365.8 250.0 366.3 250.6 367.2 251.8 370.8 252.0 371.8 251.9 372.8 249.4 382.5 248.7 385.0 247.0 388.8 245.6 391.5 243.8 394.3 241.8 398.0 241.0 399.0 240.0 399.8 237.8 400.9 235.2 401.8 229.2 402.7 226.0 403.4 222.8 403.8 222.5 404.1 221.3 405.8 218.1 414.8 217.6 416.5 217.1 420.8 216.1 425.2 215.9 425.8 215.9 426.2 215.7 426.8 215.7 427.2 215.4 427.8 215.4 428.2 215.0 428.8 215.0 429.1 214.8 429.4 214.5 429.4 214.2 429.3 214.1 429.0 214.2 428.5 214.0 428.0 214.1 427.5 214.0 427.0 214.1 426.5 214.0 426.0 214.1 425.5 214.1 425.0 214.2 424.2 215.0 418.8 216.9 408.8 217.1 407.8 218.6 404.0 220.0 402.0 219.2 401.2 218.7 400.2 218.5 399.2 218.7 398.0 219.2 396.8 220.5 394.8 221.5 392.0 222.2 390.7 223.5 389.6 226.9 387.8 227.3 387.2 228.6 384.8 229.8 381.1 231.3 378.5 234.1 372.5 234.7 370.5 234.7 369.5 234.6 368.8 234.0 367.4 232.5 365.8 232.4 365.2 232.5 365.0 232.7 364.8 233.1 364.5 234.0 364.4 237.0 364.9 238.0 364.9 239.2 364.7 245.0 362.6Z"/>
<path fill="#26ffd1" d="M245.0 363.7L246.2 363.7 247.0 364.0 247.7 364.8 248.1 366.0 249.2 366.3 250.0 366.9 250.5 367.8 251.4 370.8 251.6 371.8 251.5 372.8 250.2 378.2 248.4 384.5 246.5 389.0 245.4 391.2 243.4 394.2 241.6 397.8 240.8 398.8 239.8 399.6 237.5 400.6 235.0 401.5 230.5 401.9 223.5 403.6 222.8 403.6 222.5 403.8 221.2 405.5 217.5 416.0 217.0 419.3 216.2 423.0 215.9 424.0 215.8 424.5 215.7 424.8 215.6 425.2 215.1 425.8 215.3 426.0 215.0 426.2 214.7 426.0 214.8 425.5 214.5 425.0 214.6 424.2 215.0 420.5 216.9 409.5 217.2 408.0 218.6 404.2 220.4 401.8 220.3 401.2 219.5 400.0 219.4 399.2 219.5 398.5 220.0 397.2 221.4 395.0 222.5 391.9 223.1 391.0 224.0 390.2 227.7 388.2 228.6 386.8 232.3 379.2 233.5 376.2 235.3 372.2 235.8 370.5 236.0 367.5 236.2 366.9 236.7 366.5 237.2 366.3 239.8 365.6 243.0 364.2Z"/>
<path fill="#13fde4" d="M244.2 365.0L245.2 364.9 246.1 365.2 246.6 365.8 247.1 366.8 247.2 366.9 248.0 366.6 248.5 366.5 249.0 366.7 249.5 367.0 249.9 367.5 250.2 368.3 251.2 371.0 251.3 371.8 251.2 372.8 249.9 378.2 248.1 384.5 246.6 388.0 245.2 391.0 243.5 393.6 241.3 397.8 240.5 398.6 239.5 399.4 235.0 401.2 230.8 401.6 223.5 403.4 222.8 403.4 222.5 403.6 221.1 405.5 218.3 413.2 217.2 415.6 216.9 416.0 216.9 416.2 216.6 416.5 216.8 416.8 216.8 417.0 216.6 417.2 216.8 417.5 216.8 417.8 216.6 418.0 216.7 418.2 216.7 418.5 216.5 418.8 216.6 419.2 216.4 419.5 216.5 419.8 216.4 420.0 216.2 420.2 216.3 420.8 216.0 420.9 215.8 420.9 215.5 420.8 215.5 420.5 215.7 420.2 215.6 419.8 215.7 419.5 215.8 418.2 216.0 418.0 216.0 417.5 216.2 417.3 216.1 416.8 216.4 416.5 216.2 416.2 216.3 415.8 216.2 415.5 216.3 414.8 216.7 411.5 217.3 408.2 218.8 404.2 220.6 401.8 220.7 400.8 220.8 400.5 220.4 399.5 220.5 398.5 220.9 397.5 222.5 395.2 223.5 392.1 224.1 391.2 225.0 390.6 228.4 389.0 230.2 386.2 231.5 385.0 232.0 384.7 232.5 384.7 234.0 385.2 234.8 385.3 235.2 385.1 235.5 384.8 235.7 384.2 235.5 383.2 234.4 381.5 234.1 380.8 234.0 379.5 234.1 378.8 234.3 377.8 234.8 376.2 236.8 372.0 237.2 370.8 237.7 368.5 238.0 368.0 238.4 367.8 240.5 367.0 242.8 365.5ZM215.8 421.1L216.0 421.2 215.8 421.5 215.7 421.5 215.6 421.2Z"/>
<path fill="#00e1fb" d="M247.8 367.2L248.2 367.1 248.8 367.2 249.2 367.5 249.5 367.8 250.2 369.4 250.8 371.0 250.9 371.8 250.9 372.5 249.6 378.2 247.7 384.8 246.4 387.8 245.0 390.8 243.3 393.5 241.1 397.5 240.3 398.5 239.2 399.2 235.0 400.9 230.8 401.4 223.5 403.2 222.5 403.3 221.0 405.4 219.1 410.8 218.3 412.5 217.8 413.5 217.5 413.8 217.0 413.8 216.8 413.5 216.8 412.8 217.0 410.8 217.5 408.0 218.9 404.2 220.9 401.8 220.9 400.8 221.1 400.2 221.6 399.5 221.8 398.5 223.7 395.8 224.0 395.0 224.4 393.2 224.8 392.5 225.2 391.9 226.0 391.4 229.5 390.4 229.8 390.2 230.9 388.5 231.8 387.8 232.5 387.6 234.8 387.5 235.8 387.3 236.5 386.6 237.2 385.2 237.8 384.0 237.5 383.0 236.5 380.5 236.2 379.5 236.2 378.2 236.6 377.0 237.2 376.2 239.5 374.6 240.7 373.3 241.5 372.5 242.5 372.0 243.8 371.5 245.0 369.8 246.8 368.0Z"/>
<path fill="#00c8ff" d="M248.0 368.0L248.8 368.1 249.5 368.8 250.2 370.2 250.6 371.5 250.6 372.5 249.4 378.0 247.5 384.5 246.4 387.2 244.7 390.8 243.2 393.2 240.9 397.5 240.2 398.2 239.2 398.9 235.0 400.6 234.2 400.8 230.8 401.1 223.4 403.0 222.5 403.0 220.9 405.2 218.6 411.2 218.2 411.9 217.8 412.4 217.5 412.4 217.3 412.2 217.2 411.8 217.2 411.0 217.6 408.2 219.1 404.2 221.1 401.8 221.1 401.0 221.3 400.2 227.2 394.4 228.0 393.9 231.2 392.3 232.8 391.2 233.5 390.6 234.1 389.8 236.8 386.6 237.5 385.2 239.0 381.8 238.8 380.0 239.1 379.0 240.6 377.2 241.9 374.8 242.5 374.0 245.0 370.2 246.8 368.6 247.5 368.2Z"/>
<path fill="#00adff" d="M247.2 369.0L248.2 368.8 249.0 369.2 249.8 370.2 250.2 371.5 250.2 372.5 249.1 378.0 247.2 384.2 246.2 387.0 244.4 390.8 242.9 393.2 240.8 397.3 240.0 398.1 239.0 398.8 234.8 400.4 230.8 400.9 223.5 402.8 222.2 402.9 220.8 405.2 219.1 409.5 218.5 410.8 218.0 411.1 217.8 411.0 217.5 410.2 217.7 408.2 219.2 404.2 221.4 401.8 221.3 401.0 221.6 400.2 227.6 394.5 228.2 394.0 231.4 392.5 233.7 390.8 237.0 386.8 237.5 385.8 242.0 375.5 243.0 373.7 245.4 370.2 246.2 369.6Z"/>
<path fill="#0091ff" d="M247.0 369.7L248.0 369.6 248.8 369.9 249.5 370.7 249.8 371.5 249.8 372.2 248.8 377.8 246.9 384.2 245.9 387.0 244.2 390.5 240.5 397.2 239.8 398.0 239.0 398.6 234.8 400.2 230.5 400.7 224.2 402.3 223.0 402.6 222.5 402.5 222.0 402.2 221.6 401.8 221.5 401.2 221.6 400.8 221.8 400.4 227.8 394.7 231.5 392.7 233.8 391.0 234.9 389.5 237.2 386.8 237.7 386.0 239.9 381.2 242.3 375.5 243.2 373.8 245.7 370.5 246.2 370.1ZM221.2 402.7L221.5 403.0 221.3 403.8 220.6 405.2 219.2 408.8 218.8 409.5 218.5 409.7 218.2 409.7 217.9 409.2 218.0 408.2 219.3 404.5 220.5 403.2Z"/>
<path fill="#0079ff" d="M246.8 370.5L247.5 370.3 248.2 370.4 248.8 370.8 249.2 371.5 249.3 372.0 249.1 373.5 248.5 377.7 246.7 384.0 245.7 386.8 243.9 390.5 240.4 397.0 239.7 397.8 238.8 398.4 234.8 399.9 230.5 400.5 224.3 402.0 223.0 402.2 222.2 402.0 222.0 401.7 221.8 401.2 222.1 400.5 228.0 394.8 231.5 393.0 234.0 391.1 235.0 389.8 237.4 387.0 238.0 386.0 240.2 381.2 242.6 375.5 243.3 374.2 244.0 373.2 245.0 372.0 246.2 370.8ZM220.0 404.2L220.3 404.2 220.4 404.5 220.4 404.8 219.5 406.7 219.2 407.0 219.0 407.1 219.0 407.0 219.5 404.8 219.6 404.5Z"/>
<path fill="#005dff" d="M246.8 371.7L247.2 371.7 247.9 372.0 248.2 372.5 248.4 373.0 248.5 375.0 248.1 377.8 246.3 384.0 245.3 386.8 243.7 390.2 240.2 397.0 239.5 397.7 238.8 398.2 234.5 399.8 230.5 400.2 224.5 401.5 223.5 401.5 222.9 401.2 222.7 401.0 222.8 400.8 223.0 400.2 225.8 397.2 228.0 395.1 231.8 393.1 234.2 391.2 235.3 389.8 237.7 387.0 238.0 386.5 240.4 381.5 241.7 378.5 242.8 375.8 243.5 374.5 244.2 373.4 245.2 372.4 246.0 371.9Z"/>
<path fill="#0044ff" d="M245.8 373.0L246.2 372.9 246.8 373.0 247.2 373.4 247.7 374.0 247.9 375.2 247.8 377.5 246.6 381.0 245.8 384.5 245.1 386.5 243.5 390.0 240.1 396.8 239.5 397.4 238.7 398.0 234.5 399.5 230.5 399.9 226.5 400.6 225.2 400.6 224.8 400.5 224.5 400.3 224.5 399.8 224.9 399.0 226.3 397.2 228.2 395.3 231.8 393.4 234.2 391.6 235.5 389.9 237.9 387.2 238.7 385.8 240.8 381.5 241.9 379.0 243.4 375.2 244.5 373.8 245.2 373.2Z"/>
<path fill="#0029ff" d="M245.0 374.2L245.5 374.0 246.0 374.1 246.4 374.2 246.8 374.6 247.0 375.1 247.2 375.8 247.2 377.2 246.0 380.5 245.3 384.2 244.7 386.2 243.1 390.0 240.0 396.5 239.3 397.2 238.5 397.8 234.4 399.2 228.2 399.8 226.8 399.8 226.2 399.4 226.1 398.8 226.6 397.8 227.4 396.8 228.5 395.6 232.0 393.6 234.4 391.8 235.7 390.0 238.3 387.2 242.2 379.8 243.6 375.8 244.2 374.8Z"/>
<path fill="#0011ff" d="M245.0 375.4L245.5 375.5 245.9 376.0 246.0 376.2 245.8 377.0 245.5 377.5 244.8 378.0 244.5 378.1 244.2 378.1 244.1 377.8 244.0 377.2 244.3 376.0ZM242.8 381.4L243.0 381.4 243.5 381.8 244.3 383.0 244.5 384.0 244.4 385.2 244.0 386.5 243.4 388.0 240.7 394.5 239.7 396.5 239.0 397.2 238.2 397.7 234.2 399.0 232.5 399.1 229.5 399.1 228.8 399.0 228.2 398.8 228.0 398.7 227.7 398.2 227.8 397.5 228.3 396.5 228.8 396.0 232.0 394.0 234.5 392.0 236.3 389.8 238.6 387.5 239.5 386.0 241.0 383.2 241.8 382.3Z"/>
<path fill="#0000ff" d="M241.8 384.4L242.2 384.4 242.8 384.8 243.0 385.5 243.0 386.3 241.0 392.8 240.0 395.3 239.3 396.5 238.8 397.1 238.0 397.5 234.5 398.5 233.0 398.7 231.0 398.5 230.3 398.2 229.9 398.0 229.5 397.5 229.5 397.0 230.0 396.2 234.8 392.1 236.8 389.8 239.4 387.5 241.0 385.1Z"/>
<path fill="#0000e3" d="M239.2 388.7L240.0 388.6 240.5 388.9 240.8 389.5 240.9 390.2 240.8 391.5 240.5 393.0 240.0 394.5 239.3 396.0 238.6 396.8 237.8 397.2 234.8 398.0 233.2 398.1 232.2 397.8 231.7 397.2 231.6 396.5 231.9 395.8 233.1 394.2 235.0 392.3 236.6 390.5 238.1 389.2Z"/>
<path fill="#0000c8" d="M238.0 390.2L238.8 390.1 239.2 390.3 239.6 390.8 239.9 391.2 240.0 392.0 239.9 393.0 239.2 395.2 238.8 396.1 238.0 396.7 236.8 397.0 235.2 397.2 234.2 397.1 233.8 396.8 233.6 396.5 233.4 395.8 233.7 394.8 234.5 393.5 236.2 391.5 237.2 390.6Z"/>
<path fill="#0000a8" d="M237.2 391.7L238.0 391.7 238.5 392.0 238.7 392.2 239.0 393.2 238.9 394.2 238.7 395.2 238.2 395.8 237.5 396.3 236.5 396.3 235.8 396.1 235.3 395.8 235.0 395.0 235.0 394.2 235.3 393.5 235.7 393.0 236.5 392.2Z"/></g>
  <g fill="#000">
  <rect x="149.9445" y="83.9445" width="1.1110" height="540.1110"/>
<rect x="893.9445" y="83.9445" width="1.1110" height="540.1110"/>
<rect x="149.9445" y="83.9445" width="745.1110" height="1.1110"/>
<rect x="149.9445" y="622.9445" width="745.1110" height="1.1110"/>
<rect x="211.9445" y="624" width="1.1110" height="4.5"/>
<rect x="335.9445" y="624" width="1.1110" height="4.5"/>
<rect x="459.9445" y="624" width="1.1110" height="4.5"/>
<rect x="583.9445" y="624" width="1.1110" height="4.5"/>
<rect x="707.9445" y="624" width="1.1110" height="4.5"/>
<rect x="831.9445" y="624" width="1.1110" height="4.5"/>
<rect x="145.5" y="128.9445" width="4.5" height="1.1110"/>
<rect x="145.5" y="240.9445" width="4.5" height="1.1110"/>
<rect x="145.5" y="353.9445" width="4.5" height="1.1110"/>
<rect x="145.5" y="465.9445" width="4.5" height="1.1110"/>
<rect x="145.5" y="577.9445" width="4.5" height="1.1110"/>
<rect x="940.9445" y="83.9445" width="1.1110" height="540.1110"/>
<rect x="966.9445" y="83.9445" width="1.1110" height="540.1110"/>
<rect x="940.9445" y="83.9445" width="27.1110" height="1.1110"/>
<rect x="940.9445" y="622.9445" width="27.1110" height="1.1110"/>
<rect x="968" y="83.9445" width="4.5" height="1.1110"/>
<rect x="968" y="218.9445" width="4.5" height="1.1110"/>
<rect x="968" y="353.9445" width="4.5" height="1.1110"/>
<rect x="968" y="487.9445" width="4.5" height="1.1110"/>
<rect x="968" y="622.9445" width="4.5" height="1.1110"/>
  </g>
  <g>
  <text><tspan class="s" font-size="29.97" x="204.67" y="654.61">0</tspan></text>
<text><tspan class="s" font-size="29.73" x="318.14" y="654.61">1</tspan><tspan class="s" font-size="29.97" x="335.88" y="654.61">0</tspan></text>
<text><tspan class="s" font-size="29.82" x="441.91" y="654.61">2</tspan><tspan class="s" font-size="29.97" x="459.89" y="654.61">0</tspan></text>
<text><tspan class="s" font-size="29.97" x="566.24 583.85" y="654.61 654.61">30</tspan></text>
<text><tspan class="s" font-size="29.73" x="690.64" y="654.61">4</tspan><tspan class="s" font-size="29.97" x="708.23" y="654.61">0</tspan></text>
<text><tspan class="s" font-size="29.88" x="813.60" y="654.61">5</tspan><tspan class="s" font-size="29.97" x="831.34" y="654.61">0</tspan></text>
<text><tspan class="s" font-size="29.73" x="105.14" y="139.61">1</tspan><tspan class="s" font-size="29.97" x="122.88" y="139.61">0</tspan></text>
<text><tspan class="s" font-size="29.88" x="123.22" y="251.43">5</tspan></text>
<text><tspan class="s" font-size="29.97" x="123.67" y="363.61">0</tspan></text>
<text><tspan class="s" font-size="35.79" x="99.96" y="479.62">−</tspan><tspan class="s" font-size="29.88" x="122.45" y="476.43">5</tspan></text>
<text><tspan class="s" font-size="35.79" x="83.34" y="591.80">−</tspan><tspan class="s" font-size="29.73" x="105.82" y="588.61">1</tspan><tspan class="s" font-size="29.97" x="123.56" y="588.61">0</tspan></text>
<text><tspan class="s" font-size="22.48" x="977.97 991.16" y="91.58 91.58">39</tspan><tspan class="s" font-size="23.57" x="1004.16" y="91.58">.</tspan><tspan class="s" font-size="22.48" x="1011.14 1024.36" y="91.58 91.58">69</tspan></text>
<text><tspan class="s" font-size="22.3" x="976.88" y="226.58">1</tspan><tspan class="s" font-size="22.48" x="990.16" y="226.58">9</tspan><tspan class="s" font-size="23.57" x="1003.16" y="226.58">.</tspan><tspan class="s" font-size="22.48" x="1010.14" y="226.58">8</tspan><tspan class="s" font-size="22.3" x="1023.47" y="226.58">4</tspan></text>
<text><tspan class="s" font-size="22.48" x="977.65" y="361.58">0</tspan><tspan class="s" font-size="23.57" x="990.59" y="361.58">.</tspan><tspan class="s" font-size="22.48" x="997.57 1010.85" y="361.58 361.58">00</tspan></text>
<text><tspan class="s" font-size="26.84" x="977.25" y="497.98">−</tspan><tspan class="s" font-size="22.3" x="994.17" y="495.58">1</tspan><tspan class="s" font-size="22.48" x="1007.45" y="495.58">9</tspan><tspan class="s" font-size="23.57" x="1020.45" y="495.58">.</tspan><tspan class="s" font-size="22.48" x="1027.43" y="495.58">8</tspan><tspan class="s" font-size="22.3" x="1040.76" y="495.58">4</tspan></text>
<text><tspan class="s" font-size="26.84" x="977.40" y="632.98">−</tspan><tspan class="s" font-size="22.48" x="994.41 1007.59" y="630.58 630.58">39</tspan><tspan class="s" font-size="23.57" x="1020.60" y="630.58">.</tspan><tspan class="s" font-size="22.48" x="1027.58 1040.79" y="630.58 630.58">69</tspan></text>
<text><tspan class="m" font-size="29.27" x="288.44" y="76.08">b</tspan><tspan class="m" font-size="28.5" x="305.36" y="76.08">y</tspan><tspan class="m" font-size="27.78" x="322.11" y="79.75">_</tspan><tspan class="m" font-size="29.11" x="337.71" y="76.08">a</tspan><tspan class="m" font-size="28.75" x="355.23" y="76.08">v</tspan><tspan class="m" font-size="29.11" x="371.85" y="76.08">e</tspan><tspan class="m" font-size="28.91" x="390.11" y="76.08">r</tspan><tspan class="m" font-size="29.11" x="404.54" y="76.08">a</tspan><tspan class="m" font-size="28.95" x="421.76" y="76.08">g</tspan><tspan class="m" font-size="29.11" x="438.68" y="76.08">e</tspan><tspan class="m" font-size="29.16" x="455.18" y="76.08">d</tspan><tspan class="m" font-size="29.11" x="488.07" y="76.08">a</tspan><tspan class="m" font-size="28.95" x="505.21" y="76.08">t</tspan><tspan class="m" font-size="30.74" x="538.76" y="76.08">1</tspan><tspan class="m" font-size="30.96" x="554.95 571.77" y="76.08 76.08">30</tspan><tspan class="m" font-size="28.34" x="589.24" y="76.08">.</tspan><tspan class="m" font-size="30.74" x="605.59" y="76.08">1</tspan><tspan class="m" font-size="30.96" x="621.89 638.48 655.30 672.01" y="76.08 76.08 76.08 76.08">0308</tspan><tspan class="m" font-size="30.74" x="688.80" y="76.08">4</tspan><tspan class="m" font-size="29.13" x="722.78" y="76.08">f</tspan><tspan class="m" font-size="29.19" x="739.43" y="76.08">s</tspan></text>
<text><tspan class="m" font-size="30.74" x="467.88" y="689.96">X</tspan><tspan class="m" font-size="26.57" x="502.45" y="688.11">[</tspan><tspan class="i" font-size="29.11" x="519.47" y="689.96">μ</tspan><tspan class="i" font-size="28.94" x="537.97" y="689.96">m</tspan><tspan class="m" font-size="26.57" x="564.08" y="688.11">]</tspan></text>
<text transform="translate(66.96,407.68) rotate(-90)"><tspan class="m" font-size="30.74" x="-0.23" y="0.00">Z</tspan><tspan class="m" font-size="26.57" x="33.70" y="-1.85">[</tspan><tspan class="i" font-size="29.11" x="50.72" y="0.00">μ</tspan><tspan class="i" font-size="28.94" x="69.22" y="0.00">m</tspan><tspan class="m" font-size="26.57" x="95.33" y="-1.85">]</tspan></text>
<text transform="translate(1080.94,563.49) rotate(-90)"><tspan class="m" font-size="30.74" x="-0.86" y="0.00">N</tspan><tspan class="m" font-size="29.11" x="16.35" y="0.00">o</tspan><tspan class="m" font-size="28.91" x="34.62 49.92" y="0.00 0.00">rm</tspan><tspan class="m" font-size="29.11" x="65.76" y="0.00">a</tspan><tspan class="m" font-size="29.33" x="81.73" y="0.00">l</tspan><tspan class="m" font-size="29.13" x="99.84" y="0.00">i</tspan><tspan class="m" font-size="28.8" x="116.83" y="0.00">z</tspan><tspan class="m" font-size="29.11" x="133.31" y="0.00">e</tspan><tspan class="m" font-size="29.16" x="149.81" y="0.00">d</tspan><tspan class="m" font-size="28.91" x="183.58" y="0.00">m</tspan><tspan class="m" font-size="29.11" x="199.41" y="0.00">a</tspan><tspan class="m" font-size="28.95" x="216.63" y="0.00">g</tspan><tspan class="m" font-size="28.91" x="233.68" y="0.00">n</tspan><tspan class="m" font-size="29.11" x="250.26" y="0.00">e</tspan><tspan class="m" font-size="28.95" x="266.67" y="0.00">t</tspan><tspan class="m" font-size="29.13" x="283.61" y="0.00">i</tspan><tspan class="m" font-size="29.11" x="300.64" y="0.00">c</tspan><tspan class="m" font-size="29.13" x="333.87 350.44" y="0.00 0.00">fi</tspan><tspan class="m" font-size="29.11" x="367.21" y="0.00">e</tspan><tspan class="m" font-size="29.33" x="382.45" y="0.00">l</tspan><tspan class="m" font-size="29.16" x="400.42" y="0.00">d</tspan></text>
  </g>
  </svg>
  </body></html>
